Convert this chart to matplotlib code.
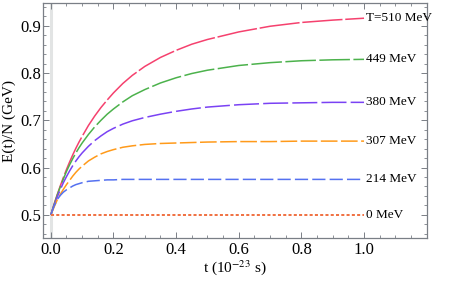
import matplotlib
matplotlib.use("Agg")
import matplotlib.pyplot as plt
from matplotlib.ticker import MultipleLocator

plt.rcParams['font.family'] = ['Liberation Serif', 'DejaVu Serif']
plt.rcParams['mathtext.fontset'] = 'stix'
plt.rcParams['lines.scale_dashes'] = False

# time grid (10^-23 s)
t = [0.00, 0.01, 0.02, 0.03, 0.04, 0.05, 0.06, 0.07, 0.08, 0.09, 0.10,
     0.12, 0.14, 0.16, 0.18, 0.20, 0.23, 0.26, 0.30, 0.35, 0.40, 0.45,
     0.50, 0.60, 0.70, 0.80, 0.90, 1.00]

# E(t)/N in GeV for each temperature
e_510 = [0.500, 0.522, 0.542, 0.561, 0.579, 0.596, 0.612, 0.627, 0.641, 0.654, 0.666,
         0.689, 0.709, 0.727, 0.743, 0.758, 0.778, 0.795, 0.814, 0.833, 0.848, 0.861,
         0.871, 0.887, 0.899, 0.907, 0.912, 0.916]
e_449 = [0.500, 0.521, 0.541, 0.559, 0.576, 0.592, 0.606, 0.619, 0.631, 0.642, 0.652,
         0.670, 0.686, 0.700, 0.713, 0.724, 0.739, 0.752, 0.765, 0.779, 0.790, 0.799,
         0.806, 0.816, 0.822, 0.826, 0.828, 0.829]
e_380 = [0.500, 0.519, 0.537, 0.553, 0.568, 0.581, 0.593, 0.604, 0.614, 0.623, 0.631,
         0.645, 0.657, 0.667, 0.676, 0.683, 0.692, 0.699, 0.706, 0.713, 0.719, 0.724,
         0.728, 0.733, 0.736, 0.737, 0.738, 0.738]
e_307 = [0.500, 0.516, 0.531, 0.543, 0.554, 0.564, 0.573, 0.582, 0.590, 0.597, 0.603,
         0.614, 0.622, 0.629, 0.634, 0.638, 0.643, 0.646, 0.649, 0.651, 0.652, 0.653,
         0.654, 0.655, 0.655, 0.656, 0.656, 0.656]
e_214 = [0.500, 0.518, 0.532, 0.541, 0.548, 0.553, 0.557, 0.561, 0.564, 0.566, 0.568,
         0.571, 0.572, 0.573, 0.574, 0.574, 0.575, 0.575, 0.575, 0.575, 0.575, 0.575,
         0.575, 0.575, 0.575, 0.575, 0.575, 0.575]
e_0 = [0.500] * len(t)

labels = ["T=510 MeV", "449 MeV", "380 MeV", "307 MeV", "214 MeV", "0 MeV"]
series = [e_510, e_449, e_380, e_307, e_214, e_0]
colors = ["#f5416e", "#4cb24c", "#7a42f4", "#ff9a1a", "#5571f0", "#f07040"]
dashes = [(29, 2), (22, 2.5), (18, 3), (12, 2.5), (9.5, 3), (2.2, 1.6)]
widths = [1.1, 1.1, 1.1, 1.1, 1.1, 1.4]

fig = plt.figure(figsize=(4.69, 2.81), dpi=100)
ax = fig.add_axes([0.0917, 0.153, 0.818, 0.836])

ax.axvline(0, color="#e2e4e4", lw=2.2, zorder=0)

for y, lab, c, d, w in zip(series, labels, colors, dashes, widths):
    ax.plot(t, y, color=c, lw=w, dashes=d)
    ax.text(1.005, y[-1], lab, fontsize=9.5, va="center", ha="left")

ax.set_xlim(-0.025, 1.2)
ax.set_ylim(0.451, 0.948)
ax.xaxis.set_minor_locator(MultipleLocator(0.05))
ax.yaxis.set_minor_locator(MultipleLocator(0.02))
ax.set_xticks([0.0, 0.2, 0.4, 0.6, 0.8, 1.0])
ax.set_xticklabels(["0.0", "0.2", "0.4", "0.6", "0.8", "1.0"])
ax.set_yticks([0.5, 0.6, 0.7, 0.8, 0.9])
ax.set_yticklabels(["0.5", "0.6", "0.7", "0.8", "0.9"])

frame = "#7a7f86"
for s in ax.spines.values():
    s.set_color(frame)
    s.set_linewidth(0.9)
ax.tick_params(which="both", direction="in", top=True, right=True, color=frame,
               labelsize=12)
ax.tick_params(axis="y", pad=1.5)
ax.tick_params(axis="x", pad=3)
ax.tick_params(which="major", length=4, width=0.7)
ax.tick_params(which="minor", length=2.2, width=0.6)

ax.set_xlabel(r"t (10$^{-23}$ s)", fontsize=11, labelpad=0)
ax.set_ylabel("E(t)/N (GeV)", fontsize=11, labelpad=3)

fig.savefig("out.png", dpi=100)
